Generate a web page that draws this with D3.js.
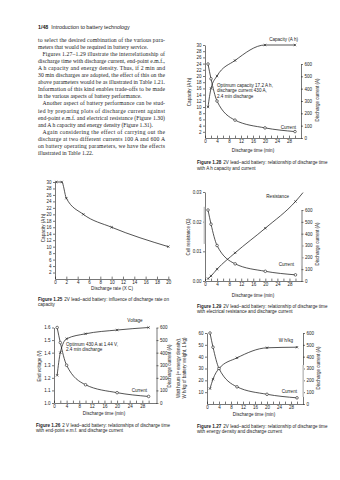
<!DOCTYPE html>
<html><head><meta charset="utf-8">
<script src="https://cdn.jsdelivr.net/npm/d3@7"></script>
<style>html,body{margin:0;padding:0;background:#fff;} svg{display:block;}</style>
</head><body>
<svg id="page" width="340" height="480"></svg>
<script>
// ---------- data read from the page ----------
const timeMin = [1, 2, 4, 10, 20, 30];
const currentA = [600, 480, 300, 145, 82, 52];
const capacityAh = [10, 16, 20, 25, 30, 30];
const endVoltage = [1.22, 1.40, 1.51, 1.55, 1.58, 1.60];
const energyWhKg = [13, 21, 30, 39, 47.5, 48];
const resistanceTime = [1, 2, 4, 10, 20, 30, 32.5];
const resistanceOhm = [0.0008, 0.0017, 0.0040, 0.0095, 0.0178, 0.0268, 0.0298];
const rateXC = [0.2, 1.2, 2, 5, 10, 20];
const capacityByRate = [30, 30, 25, 20, 16, 10];

const timeTicks = d3.range(0, 31, 2);
const timeLabels = [0, 4, 8, 12, 16, 20, 24, 28];
const rateTicks = d3.range(0, 21, 2);
const capTicks = d3.range(2, 31, 2);
const currentTicks = [0, 100, 200, 300, 400, 500, 600];
const voltTicks = [1.0, 1.1, 1.2, 1.3, 1.4, 1.5, 1.6];
const resTicks = [0, 0.01, 0.02, 0.03];
const energyTicks = [10, 20, 30, 40, 50, 60];

const bodyLines = [
  "to select the desired combination of the various para-",
  "meters that would be required in battery service.",
  "Figures 1.27\u20131.29 illustrate the interrelationship of",
  "discharge time with discharge current, end-point e.m.f.,",
  "A h capacity and energy density. Thus, if 2 min and",
  "30 min discharges are adopted, the effect of this on the",
  "above parameters would be as illustrated in Table 1.21.",
  "Information of this kind enables trade-offs to be made",
  "in the various aspects of battery performance.",
  "Another aspect of battery performance can be stud-",
  "ied by preparing plots of discharge current against",
  "end-point e.m.f. and electrical resistance (Figure 1.30)",
  "and A h capacity and energy density (Figure 1.31).",
  "Again considering the effect of carrying out the",
  "discharge at two different currents 100 A and 600 A",
  "on battery operating parameters, we have the effects",
  "illustrated in Table 1.22."
];
const paraStarts = [2, 9, 13];
const paraEnds = [1, 8, 12, 16];

// ---------- drawing ----------
const svg = d3.select('#page');
const SANS = "'Liberation Sans', Arial, Helvetica, sans-serif";
const SERIF = "'Liberation Serif', 'Times New Roman', serif";
const INK = '#1b1b1b';

const hdr = svg.append('text').attr('x', 38).attr('y', 28.5)
  .attr('font-family', SANS).attr('font-size', 5.3).attr('fill', INK);
hdr.append('tspan').attr('font-weight', 'bold').text('1/48');
hdr.append('tspan').attr('dx', 3).text('Introduction to battery technology');

bodyLines.forEach((s, i) => {
  const indent = paraStarts.includes(i) ? 4.5 : 0;
  const t = svg.append('text').attr('x', 38 + indent).attr('y', 41.5 + i * 7.1)
    .attr('font-family', SERIF).attr('font-size', 5.7).attr('fill', INK).text(s);
  if (!paraEnds.includes(i)) t.attr('textLength', 127 - indent).attr('lengthAdjust', 'spacing');
});

function styleAxis(a) {
  a.attr('font-size', 4.5).attr('font-family', SANS);
  a.selectAll('path,line').attr('stroke', INK).attr('stroke-width', 0.6);
  a.selectAll('text').attr('fill', INK);
}

function label(g, x, y, txt, anchor, size) {
  return g.append('text').attr('x', x).attr('y', y).attr('text-anchor', anchor || 'start')
    .attr('font-family', SANS).attr('font-size', size || 4.6).attr('fill', INK).text(txt);
}
function vlabel(g, x, y, txt) {
  return g.append('text').attr('transform', `translate(${x},${y}) rotate(-90)`)
    .attr('text-anchor', 'middle').attr('font-family', SANS).attr('font-size', 4.5)
    .attr('fill', INK).text(txt);
}
function caption(x, y, fig, l1, l2) {
  const t = svg.append('text').attr('x', x).attr('y', y).attr('font-family', SANS)
    .attr('font-size', 4.6).attr('fill', INK);
  t.append('tspan').attr('font-weight', 'bold').text(fig);
  t.append('tspan').attr('dx', 2).text(l1);
  label(svg, x, y + 5.6, l2);
}

function series(g, x, y, xs, ys, marker, markN) {
  const pts = xs.map((d, i) => [x(d), y(ys[i])]);
  g.append('path').attr('d', d3.line().curve(d3.curveMonotoneX)(pts))
    .attr('fill', 'none').attr('stroke', INK).attr('stroke-width', 0.75);
  const n = markN === undefined ? pts.length : markN;
  pts.slice(0, n).forEach(p => {
    if (marker === 'x') {
      g.append('path').attr('transform', `translate(${p[0]},${p[1]})`)
        .attr('d', 'M-1.2,-1.2L1.2,1.2M-1.2,1.2L1.2,-1.2').attr('stroke', INK).attr('stroke-width', 0.6);
    } else if (marker === 'o') {
      g.append('circle').attr('cx', p[0]).attr('cy', p[1]).attr('r', 1.3)
        .attr('fill', '#fff').attr('stroke', INK).attr('stroke-width', 0.6);
    }
  });
}

function chart(o) {
  const g = svg.append('g');
  const x = d3.scaleLinear().domain(o.xDomain).range(o.xRange);
  const y = d3.scaleLinear().domain(o.yDomain).range(o.yRange);
  const xa = g.append('g').attr('transform', `translate(0,${o.yRange[0]})`)
    .call(d3.axisBottom(x).tickValues(o.xTicks).tickSize(-2.4).tickSizeOuter(0).tickPadding(2.2)
      .tickFormat(d => o.xLabels.includes(d) ? d : ''));
  styleAxis(xa);
  const la = g.append('g').attr('transform', `translate(${o.xRange[0]},0)`)
    .call(d3.axisLeft(y).tickValues(o.yTicks).tickSize(2).tickSizeOuter(0).tickPadding(1.4)
      .tickFormat(o.yFormat || (d => d)));
  styleAxis(la);
  let yR = null;
  if (o.rDomain) {
    yR = d3.scaleLinear().domain(o.rDomain).range(o.rRange);
    const ra = g.append('g').attr('transform', `translate(${o.xRange[1]},0)`)
      .call(d3.axisRight(yR).tickValues(currentTicks).tickSize(2).tickSizeOuter(0).tickPadding(1.4));
    styleAxis(ra);
  }
  return {g, x, y, yR};
}

// Figure 1.28 (top right)
{
  const c = chart({xDomain: [0, 32], xRange: [205, 301], yDomain: [0, 30], yRange: [138, 45],
    rDomain: [0, 600], rRange: [138, 64], xTicks: timeTicks, xLabels: timeLabels, yTicks: capTicks});
  series(c.g, c.x, c.y, timeMin, capacityAh, 'x');
  series(c.g, c.x, c.yR, timeMin, currentA, 'o');
  label(c.g, 298, 40.5, 'Capacity (A h)', 'end');
  label(c.g, 296, 128.5, 'Current', 'end');
  label(c.g, 217, 86.5, 'Optimum capacity 17.2 A h,');
  label(c.g, 217, 92, 'discharge current 430 A,');
  label(c.g, 217, 97.5, '2.4 min discharge');
  vlabel(c.g, 190.5, 92, 'Capacity (A h)');
  vlabel(c.g, 318.5, 100, 'Discharge current (A)');
  label(c.g, 253, 151.5, 'Discharge time (min)', 'middle');
  caption(197, 164, 'Figure 1.28', '2V lead\u2013acid battery: relationship of discharge time', 'with A h capacity and current');
}

// Figure 1.25 (middle left)
{
  const c = chart({xDomain: [0, 20.3], xRange: [55, 170], yDomain: [0, 30], yRange: [279, 182],
    xTicks: rateTicks, xLabels: rateTicks, yTicks: capTicks});
  series(c.g, c.x, c.y, rateXC, capacityByRate, 'x');
  vlabel(c.g, 44.5, 228, 'Capacity (A h)');
  label(c.g, 112, 290, 'Discharge rate (X C)', 'middle');
  caption(38, 300.5, 'Figure 1.25', '2V lead\u2013acid battery: influence of discharge rate on', 'capacity');
}

// Figure 1.29 (middle right)
{
  const c = chart({xDomain: [0, 32], xRange: [205, 301.5], yDomain: [0, 0.03], yRange: [281, 192],
    rDomain: [0, 600], rRange: [281, 210], xTicks: timeTicks, xLabels: timeLabels, yTicks: resTicks,
    yFormat: d3.format('.2f')});
  c.g.append('rect').attr('x', c.x(0) - 1.4).attr('y', c.y(0.025)).attr('width', 1.6)
    .attr('height', c.y(0.0125) - c.y(0.025)).attr('fill', '#c4c4c4');
  c.g.append('rect').attr('x', c.x(32) - 0.6).attr('y', c.yR(370)).attr('width', 1.6)
    .attr('height', c.yR(130) - c.yR(370)).attr('fill', '#c4c4c4');
  series(c.g, c.x, c.y, resistanceTime, resistanceOhm, 'x', 6);
  series(c.g, c.x, c.yR, timeMin, currentA, 'o');
  label(c.g, 289, 197.5, 'Resistance', 'end');
  label(c.g, 294, 266, 'Current', 'end');
  vlabel(c.g, 189.5, 237, 'Cell resistance (\u03a9)');
  vlabel(c.g, 318.5, 244, 'Discharge current (A)');
  label(c.g, 253, 297, 'Discharge time (min)', 'middle');
  caption(197, 307.5, 'Figure 1.29', '2V lead\u2013acid battery: relationship of discharge time', 'with electrical resistance and discharge current');
}

// Figure 1.26 (bottom left)
{
  const c = chart({xDomain: [0, 32.5], xRange: [54, 156.5], yDomain: [1.0, 1.6], yRange: [403, 327.5],
    rDomain: [0, 600], rRange: [403, 327.5], xTicks: timeTicks, xLabels: timeLabels, yTicks: voltTicks,
    yFormat: d3.format('.1f')});
  series(c.g, c.x, c.y, timeMin, endVoltage, 'x');
  series(c.g, c.x, c.yR, timeMin, currentA, 'o');
  label(c.g, 135, 321.5, 'Voltage', 'middle');
  label(c.g, 147, 391.5, 'Current', 'end');
  label(c.g, 66, 345.5, 'Optimum 430 A at 1.44 V,');
  label(c.g, 66, 351, '2.4 min discharge');
  vlabel(c.g, 41, 366, 'End voltage (V)');
  vlabel(c.g, 170.5, 366, 'Discharge current (A)');
  label(c.g, 104, 415, 'Discharge time (min)', 'middle');
  caption(36, 426.5, 'Figure 1.26', '2 V lead\u2013acid battery: relationships of discharge time', 'with end-point e.m.f. and discharge current');
}

// Figure 1.27 (bottom right)
{
  const c = chart({xDomain: [0, 32], xRange: [207, 303], yDomain: [0, 60], yRange: [404, 333],
    rDomain: [0, 600], rRange: [404, 333], xTicks: timeTicks, xLabels: timeLabels, yTicks: energyTicks});
  c.g.append('rect').attr('x', c.x(32) - 0.6).attr('y', c.yR(330)).attr('width', 1.6)
    .attr('height', c.yR(60) - c.yR(330)).attr('fill', '#c4c4c4');
  series(c.g, c.x, c.y, timeMin, energyWhKg, 'x');
  series(c.g, c.x, c.yR, timeMin, currentA, 'o');
  label(c.g, 293, 342, 'W h/kg', 'end');
  label(c.g, 297, 392.5, 'Current', 'end');
  vlabel(c.g, 180, 368, 'Watt hours (= energy density),');
  vlabel(c.g, 185.5, 368, 'W h/kg of battery weight, 1 kg)');
  vlabel(c.g, 319.5, 368, 'Discharge current (A)');
  label(c.g, 254, 416, 'Discharge time (min)', 'middle');
  caption(197, 427.5, 'Figure 1.27', '2V lead\u2013acid battery: relationship of discharge time', 'with energy density and discharge current');
}
</script>
</body></html>
